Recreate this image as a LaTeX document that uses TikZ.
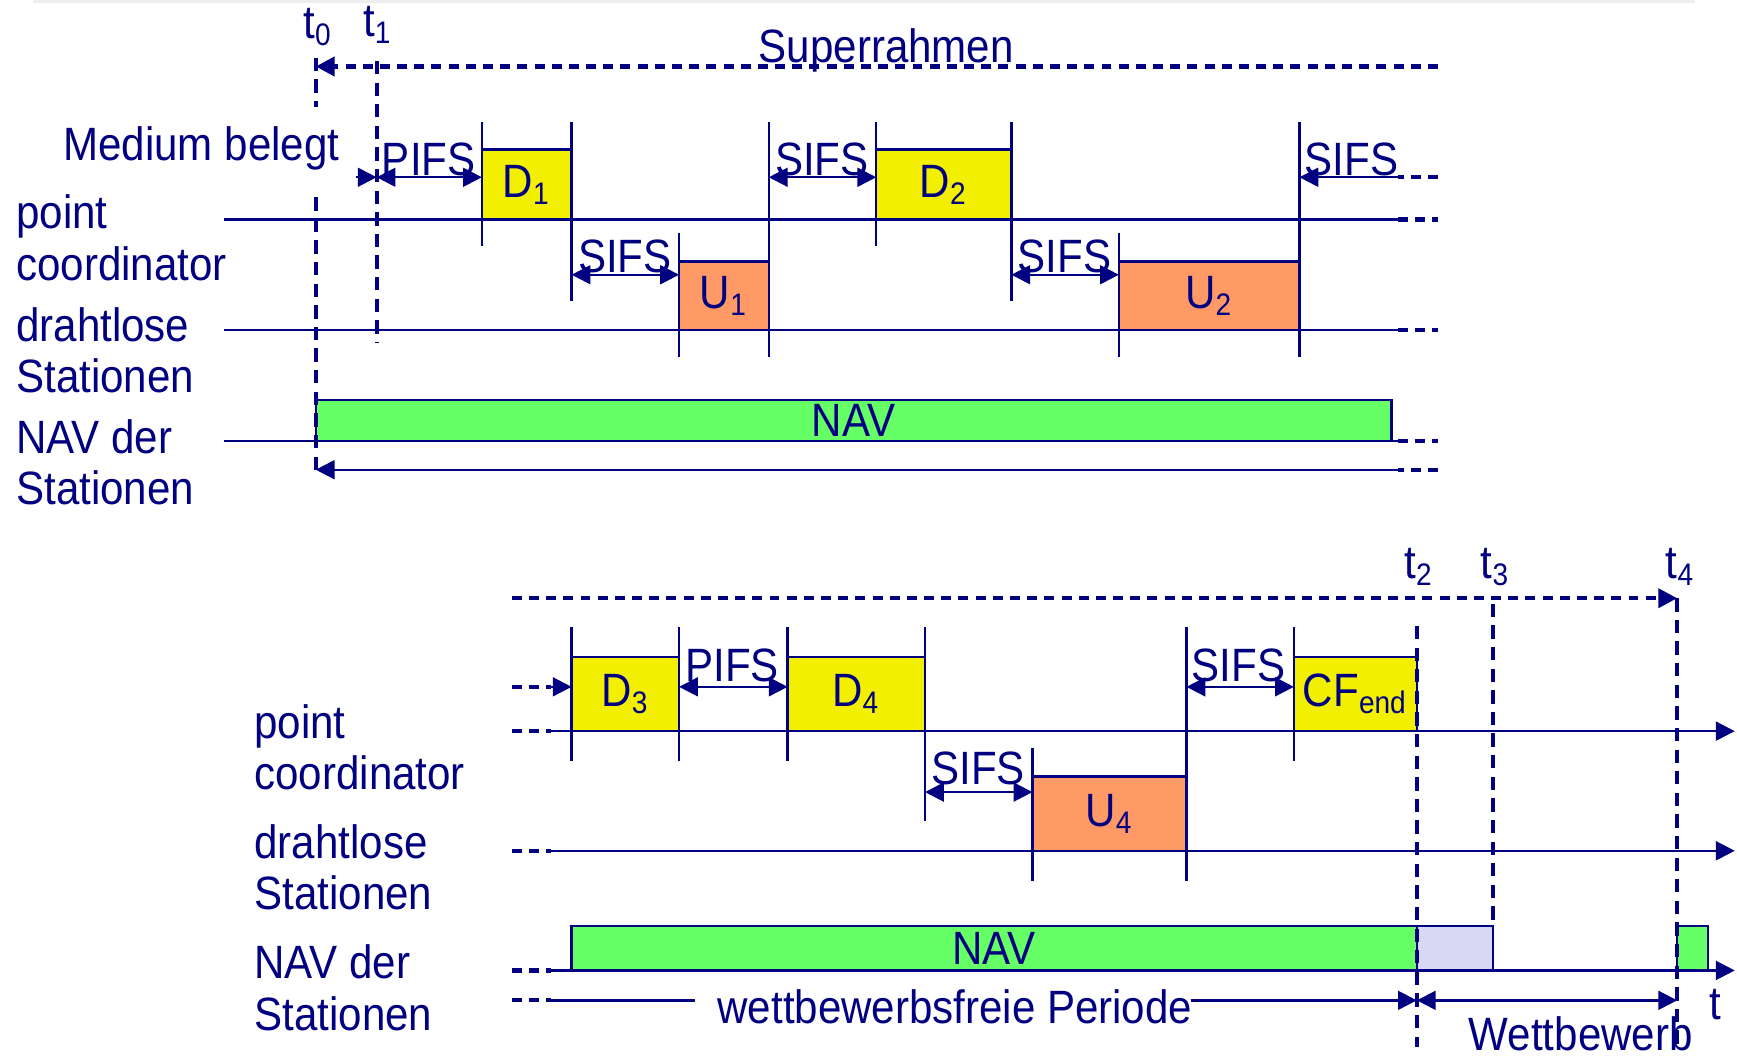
\documentclass[tikz,border=0pt]{standalone}
\usepackage{fontspec}
\setmainfont{Liberation Sans}[FakeStretch=0.9]
\usepackage{tikz}
\usetikzlibrary{arrows.meta,calc}
\definecolor{ink}{RGB}{0,0,128}
\definecolor{dgelb}{RGB}{242,240,0}
\definecolor{uorange}{RGB}{255,153,102}
\definecolor{navgruen}{RGB}{102,255,102}
\definecolor{wlila}{RGB}{216,216,244}
\tikzset{
  lbl/.style={text=ink,inner sep=0pt,font=\fontsize{12}{14}\selectfont},
  zeit/.style={ink,line width=0.6pt},
  strich/.style={ink,line width=1.1pt,dash pattern=on 0.09cm off 0.065cm},
  vstrich/.style={ink,line width=1.1pt,dash pattern=on 0.12cm off 0.075cm},
  spitze/.style={-{Triangle[length=0.17cm,width=0.17cm]}},
  pfeil/.style={zeit,spitze},
  dpfeil/.style={zeit,{Triangle[length=0.17cm,width=0.17cm]}-{Triangle[length=0.17cm,width=0.17cm]}},
  rahmen/.style={draw=ink,line width=0.6pt},
}
\begin{document}
\begin{tikzpicture}[x=0.01cm,y=-0.01cm]
\useasboundingbox (0,0) rectangle (1568,953);
\fill[black!7] (30,0) rectangle (1530,3);

\node[lbl,anchor=base] (t0) at (287,35) {t\textsubscript{0}};
\node[lbl,anchor=base] (t1) at (341,33) {t\textsubscript{1}};
\node[lbl,anchor=base] (super) at (800,56) {Superrahmen};
\node[lbl,anchor=base east] (belegt) at (307,145) {Medium belegt};
\node[lbl,anchor=base west] (pc1) at (14,206) {point};
\node[lbl,anchor=base west] (pc2) at (14,253) {coordinator};
\node[lbl,anchor=base west] (ds1) at (14,308) {drahtlose};
\node[lbl,anchor=base west] (ds2) at (14,354) {Stationen};
\node[lbl,anchor=base west] (nv1) at (14,409) {NAV der};
\node[lbl,anchor=base west] (nv2) at (14,455) {Stationen};

\foreach \x/\a/\b in {435/110/222,516/110/272,613/210/322,694/110/322,
                      791/110/222,913/110/272,1010/210/322,1173/110/322}
  \draw[zeit] (\x,\a) -- (\x,\b);

\draw[rahmen,fill=dgelb] (435,135) rectangle (516,198) node[lbl,midway] (d1) {D\textsubscript{1}};
\draw[rahmen,fill=dgelb] (791,135) rectangle (913,198) node[lbl,midway] (d2) {D\textsubscript{2}};
\draw[rahmen,fill=uorange] (613,236) rectangle (694,298) node[lbl,midway] (u1) {U\textsubscript{1}};
\draw[rahmen,fill=uorange] (1010,236) rectangle (1173,298) node[lbl,midway] (u2) {U\textsubscript{2}};
\draw[rahmen,fill=navgruen] (285,361) rectangle (1256,398) node[lbl,midway] (nav1) {NAV};

\draw[zeit] (202,198) -- (1262,198);
\draw[strich] (1262,198) -- (1298,198);
\draw[zeit] (202,298) -- (1262,298);
\draw[strich] (1262,298) -- (1298,298);
\draw[zeit] (202,398) -- (1262,398);
\draw[strich] (1262,398) -- (1298,398);

\draw[pfeil] (321,160) -- (340,160);
\draw[dpfeil] (340,160) -- (435,160);
\node[lbl,anchor=base] (pifs1) at (387,158) {PIFS};
\draw[dpfeil] (516,248) -- (613,248);
\node[lbl,anchor=base] (sifs1) at (564,246) {SIFS};
\draw[dpfeil] (694,160) -- (791,160);
\node[lbl,anchor=base] (sifs2) at (742,158) {SIFS};
\draw[dpfeil] (913,248) -- (1010,248);
\node[lbl,anchor=base] (sifs3) at (961,246) {SIFS};
\draw[strich] (1298,160) -- (1262,160);
\draw[pfeil] (1262,160) -- (1173,160);
\node[lbl,anchor=base] (sifs4) at (1220,158) {SIFS};

\draw[strich] (1298,424) -- (1262,424);
\draw[pfeil] (1262,424) -- (285,424);
\draw[strich,spitze] (1298,60) -- (285,60);
\draw[vstrich] (285,52) -- (285,97);
\draw[vstrich] (285,178) -- (285,424);
\draw[vstrich] (340,55) -- (340,310);

\node[lbl,anchor=base] (t2) at (1281,522) {t\textsubscript{2}};
\node[lbl,anchor=base] (t3) at (1350,522) {t\textsubscript{3}};
\node[lbl,anchor=base] (t4) at (1517,522) {t\textsubscript{4}};
\node[lbl,anchor=base west] (pc3) at (229,667) {point};
\node[lbl,anchor=base west] (pc4) at (229,713) {coordinator};
\node[lbl,anchor=base west] (ds3) at (229,775) {drahtlose};
\node[lbl,anchor=base west] (ds4) at (229,821) {Stationen};
\node[lbl,anchor=base west] (nv3) at (229,883) {NAV der};
\node[lbl,anchor=base west] (nv4) at (229,930) {Stationen};

\foreach \x/\a/\b in {516/566/687,613/566/687,711/566/687,835/566/741,
                      932/675/795,1071/566/795,1168/566/687}
  \draw[zeit] (\x,\a) -- (\x,\b);

\draw[rahmen,fill=dgelb] (516,593) rectangle (613,660) node[lbl,midway] (d3) {D\textsubscript{3}};
\draw[rahmen,fill=dgelb] (711,593) rectangle (835,660) node[lbl,midway] (d4) {D\textsubscript{4}};
\draw[rahmen,fill=dgelb] (1168,593) rectangle (1279,660) node[lbl,midway] (cfend) {CF\textsubscript{end}};
\draw[rahmen,fill=uorange] (932,701) rectangle (1071,768) node[lbl,midway] (u4) {U\textsubscript{4}};
\draw[rahmen,fill=navgruen] (516,836) rectangle (1279,876) node[lbl,midway] (nav2) {NAV};
\draw[rahmen,fill=wlila] (1279,836) rectangle (1348,876);
\draw[rahmen,fill=navgruen] (1514,836) rectangle (1542,876);

\draw[strich] (462,620) -- (497,620);
\draw[pfeil] (497,620) -- (516,620);
\draw[dpfeil] (613,620) -- (711,620);
\node[lbl,anchor=base] (pifs2) at (661,615) {PIFS};
\draw[dpfeil] (835,715) -- (932,715);
\node[lbl,anchor=base] (sifs5) at (883,708) {SIFS};
\draw[dpfeil] (1071,620) -- (1168,620);
\node[lbl,anchor=base] (sifs6) at (1118,615) {SIFS};

\draw[strich] (462,660) -- (497,660);
\draw[pfeil] (497,660) -- (1566,660);
\draw[strich] (462,768) -- (497,768);
\draw[pfeil] (497,768) -- (1566,768);
\draw[strich] (462,876) -- (497,876);
\draw[pfeil] (497,876) -- (1566,876);

\draw[strich] (462,903) -- (497,903);
\draw[zeit] (497,903) -- (627,903);
\node[lbl,anchor=base] (wfp) at (862,924) {wettbewerbsfreie Periode};
\draw[pfeil] (1075,903) -- (1279,903);
\draw[dpfeil] (1279,903) -- (1514,903);
\node[lbl,anchor=base] (wb) at (1427,948) {Wettbewerb};
\node[lbl,anchor=base] (t) at (1548,920) {t};

\draw[strich,spitze] (462,540) -- (1514,540);
\draw[vstrich] (1279,565) -- (1279,945);
\draw[vstrich] (1348,545) -- (1348,836);
\draw[vstrich] (1514,540) -- (1514,945);
\end{tikzpicture}
\end{document}
